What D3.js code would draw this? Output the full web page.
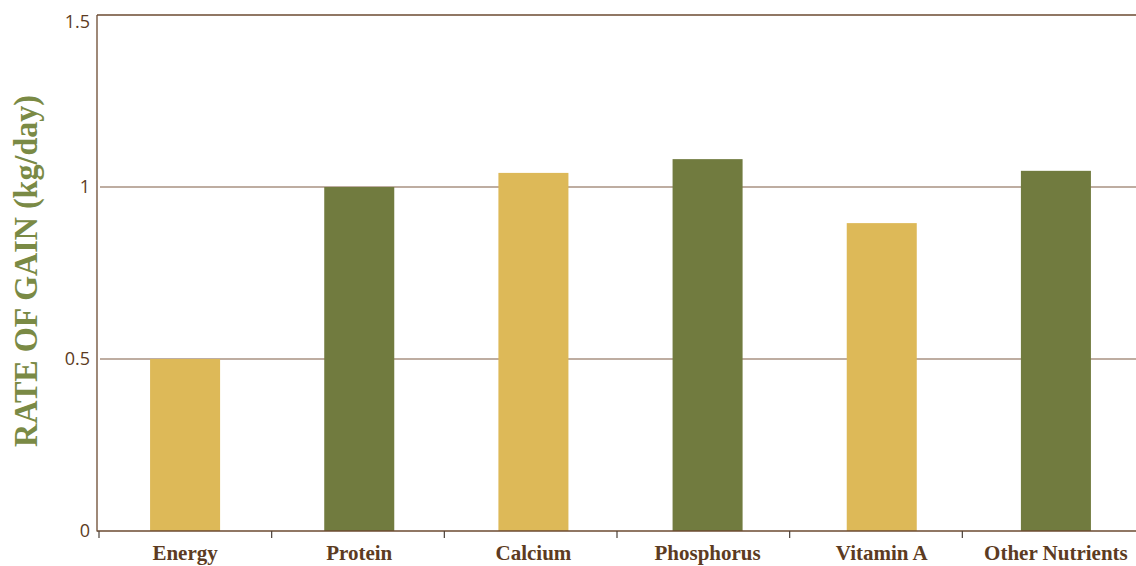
<!DOCTYPE html>
<html><head><meta charset="utf-8">
<script src="https://cdn.jsdelivr.net/npm/d3@7"></script>
<style>body{margin:0;background:#fff;} svg{display:block;}</style>
</head><body>
<svg id="c" width="1136" height="566"></svg>
<script>
const categories = ["Energy","Protein","Calcium","Phosphorus","Vitamin A","Other Nutrients"];
const values = [0.5, 1.0, 1.041, 1.081, 0.895, 1.047];
const barColors = ["#DDB958","#717B3F","#DDB958","#717B3F","#DDB958","#717B3F"];
const yTicks = [0, 0.5, 1, 1.5];
const yTickLabels = ["0","0.5","1","1.5"];
const yTitle = "RATE OF GAIN (kg/day)";

const svg = d3.select("#c");
const y = d3.scaleLinear().domain([0,1.5]).range([531,15]);
const xAxisScale = d3.scaleBand().domain(categories).range([99,1135]);
const xBar = d3.scaleBand().domain(categories).range([98,1143]).paddingInner(0.598).paddingOuter(0.299);

// gridlines
svg.append("g").selectAll("line").data([0.5,1]).join("line")
  .attr("x1",100).attr("x2",1136).attr("y1",d=>y(d)).attr("y2",d=>y(d))
  .attr("stroke","#a89282").attr("stroke-width",1.3);
// top line
svg.append("line").attr("x1",97).attr("x2",1136).attr("y1",y(1.5)).attr("y2",y(1.5))
  .attr("stroke","#6b4a30").attr("stroke-width",1.3);

// bars
svg.append("g").selectAll("rect").data(categories).join("rect")
  .attr("x",d=>xBar(d)).attr("width",xBar.bandwidth())
  .attr("y",(d,i)=>y(values[i])).attr("height",(d,i)=>y(0)-y(values[i]))
  .attr("fill",(d,i)=>barColors[i]);

// y axis
svg.append("line").attr("x1",97).attr("x2",97).attr("y1",15).attr("y2",531.5)
  .attr("stroke","#6b4a30").attr("stroke-width",1.3);
svg.append("g").selectAll("text").data(yTicks).join("text")
  .attr("x",90).attr("y",d=>y(d) + (d===1.5 ? 7 : 0)).attr("dy","0.36em").attr("text-anchor","end")
  .attr("font-family","'Open Sans', sans-serif").attr("font-size",18).attr("fill","#5c3b22")
  .text((d,i)=>yTickLabels[i]);

// x axis
svg.append("line").attr("x1",97).attr("x2",1136).attr("y1",531).attr("y2",531)
  .attr("stroke","#6b4a30").attr("stroke-width",1.3);
svg.append("g").selectAll("line").data(categories).join("line")
  .attr("x1",d=>xAxisScale(d)).attr("x2",d=>xAxisScale(d)).attr("y1",531).attr("y2",538)
  .attr("stroke","#4a4038").attr("stroke-width",1.2);
svg.append("g").selectAll("text").data(categories).join("text")
  .attr("x",d=>xBar(d)+xBar.bandwidth()/2).attr("y",560).attr("text-anchor","middle")
  .attr("font-family","'Liberation Serif', serif").attr("font-weight","bold").attr("font-size",21)
  .attr("fill","#5c3b22").text(d=>d);

// y title
svg.append("text").attr("transform","translate(37,271) rotate(-90)")
  .attr("text-anchor","middle").attr("font-family","'Liberation Serif', serif")
  .attr("font-weight","bold").attr("font-size",33).attr("fill","#7a8a45")
  .attr("textLength",352).attr("lengthAdjust","spacingAndGlyphs")
  .text(yTitle);
</script>
</body></html>
